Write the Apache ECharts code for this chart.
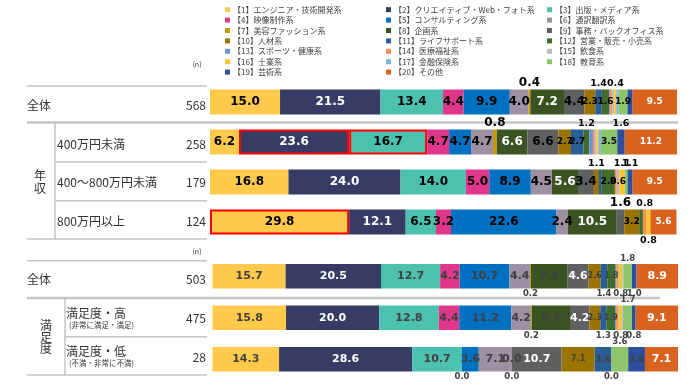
<!DOCTYPE html>
<html>
<head>
<meta charset="utf-8">
<script src="https://cdn.jsdelivr.net/npm/echarts@6/dist/echarts.min.js"></script>
<style>html,body{margin:0;padding:0;background:#fff}#c{width:700px;height:387px}</style>
</head>
<body>
<div id="c"></div>
<script>
// ---------- data ----------
const seriesNames = ['【1】エンジニア・技術開発系','【2】クリエイティブ・Web・フォト系','【3】出版・メディア系','【4】映像制作系','【5】コンサルティング系','【6】通訳翻訳系','【7】美容ファッション系','【8】企画系','【9】事務・バックオフィス系','【10】人材系','【11】ライフサポート系','【12】営業・販売・小売系','【13】スポーツ・健康系','【14】医療福祉系','【15】飲食系','【16】士業系','【17】金融保険系','【18】教育系','【19】芸術系','【20】その他'];
const colors = ['#FFC94B','#363C63','#4CC1B0','#E0378A','#0070C0','#9E8FA3','#C89B05','#3B5323','#606060','#9A7300','#2A5E96','#426B2E','#6A93D8','#F39050','#BDBDBD','#FFC629','#80B4E6','#8DC56B','#2D4F9E','#D9621F'];

const incomeRows = ['全体','400万円未満','400～800万円未満','800万円以上'];
const incomeN = ['568','258','179','124'];
const satisRows = ['全体','満足度・高','満足度・低'];
const satisN = ['503','475','28'];

const vAll568   = [15.0,21.5,13.4,4.4,9.9,4.0,0.4,7.2,4.4,2.3,1.4,1.6,0.2,0.5,0.4,0.4,0.5,1.9,1.1,9.5];
const vUnder400 = [6.2,23.6,16.7,4.7,4.7,4.7,0.8,6.6,6.6,2.7,2.7,1.2,0.8,0.4,0.4,0.4,0.5,3.5,1.6,11.2];
const v400to800 = [16.8,24.0,14.0,5.0,8.9,4.5,0.0,5.6,3.4,1.1,0.6,2.8,0.0,0.4,0.6,1.1,0.0,0.6,1.1,9.5];
const vOver800  = [29.8,12.1,6.5,3.2,22.6,2.4,0.0,10.5,1.6,3.2,0.0,0.8,0.0,0.8,0.0,0.8,0.0,0.0,0.0,5.6];
const vAll503   = [15.7,20.5,12.7,4.2,10.7,4.4,0.2,7.8,4.6,2.6,1.4,1.8,0.2,0.3,0.2,0.8,0.2,1.8,1.0,8.9];
const vSatHigh  = [15.8,20.0,12.8,4.4,11.2,4.2,0.2,8.2,4.2,2.3,1.3,1.9,0.2,0.4,0.2,0.8,0.3,1.7,0.8,9.1];
const vSatLow   = [14.3,28.6,10.7,0.0,3.6,7.1,0.0,0.0,10.7,7.1,3.6,0.0,0.0,0.0,0.0,0.0,0.0,3.6,3.6,7.1];

// ---------- label placement (legend numbers) ----------
const labelsA = [
  {inside:[1,2,3,4,5,6,8,9,10,12,18,20], top:[7,11,16], bottom:[]},
  {inside:[1,2,3,4,5,6,8,9,10,11,18,20], top:[7,12,19], bottom:[]},
  {inside:[1,2,3,4,5,6,8,9,12,15,20], top:[10,16,19], bottom:[]},
  {inside:[1,2,3,4,5,6,8,10,20], top:[9,14], bottom:[16]}
];
const labelsB = [
  {inside:[1,2,3,4,5,6,8,9,10,12,20], top:[18], bottom:[7,11,16,19]},
  {inside:[1,2,3,4,5,6,8,9,10,12,20], top:[18], bottom:[7,11,16,19]},
  {inside:[1,2,3,5,6,7,9,10,11,19,20], top:[18], bottom:[4,8,12]}
];
const highlightA = [[1,2],[1,3],[3,1]];

const rowsA = [vAll568, vUnder400, v400to800, vOver800];
const rowsB = [vAll503, vSatHigh, vSatLow];

const LF = 'DejaVu Sans, Verdana, sans-serif';
const JF = '"Noto Sans CJK JP", sans-serif';

function makeItem(group, r, s, v) {
  const num = s + 1;
  const cfg = group === 'A' ? labelsA[r] : labelsB[r];
  const item = {value: v};
  let label = {show: false};
  const dark = group === 'A' ? '#000' : '#404040';
  if (cfg.inside.includes(num)) {
    let white = group === 'A' ? [2,8,20].includes(num) : [2,9,20].includes(num);
    let size;
    if (group === 'A') size = num <= 9 ? 12 : 9;
    else size = (num <= 9 || num === 20) ? 11 : (num === 11 || num === 19 ? 9 : 8);
    label = {show:true, position:'inside', color: white ? '#fff' : dark, fontSize:size, fontWeight:'bold', fontFamily:LF};
  } else if (cfg.top.includes(num) || cfg.bottom.includes(num)) {
    const pos = cfg.top.includes(num) ? 'top' : 'bottom';
    let size = group === 'A' ? ((num === 7 || num === 9) ? 12 : 9.5) : 8.5;
    label = {show:true, position:pos, distance: 1, color: dark, fontSize:size, fontWeight:'bold', fontFamily:LF};
  }
  item.label = label;
  if (group === 'A' && highlightA.some(h => h[0] === r && h[1] === num)) {
    item.itemStyle = {borderColor:'#FF0000', borderWidth:2};
  }
  return item;
}

const series = [];
for (let s = 0; s < 20; s++) {
  series.push({
    name: seriesNames[s], type:'bar', stack:'a', xAxisIndex:0, yAxisIndex:0,
    barWidth: 25, itemStyle:{color:colors[s]},
    label:{formatter: p => Number(p.value).toFixed(1)},
    data: rowsA.map((row, r) => makeItem('A', r, s, row[s])),
    animation:false
  });
}
for (let s = 0; s < 20; s++) {
  series.push({
    name: seriesNames[s], type:'bar', stack:'b', xAxisIndex:1, yAxisIndex:1,
    barWidth: 24.5, itemStyle:{color:colors[s]},
    label:{formatter: p => Number(p.value).toFixed(1)},
    data: rowsB.map((row, r) => makeItem('B', r, s, row[s])),
    animation:false
  });
}

const legendCommon = {
  orient:'vertical', top:4.5, padding:0, itemGap:0, itemWidth:5, itemHeight:5, icon:'rect',
  selectedMode:false,
  textStyle:{fontSize:8, lineHeight:10.4, color:'#404040', fontFamily:JF, padding:[0,0,0,-2]}
};
const legends = [0,1,2].map(c => Object.assign({}, legendCommon, {
  left: [225, 386, 547][c],
  data: seriesNames.filter((n, i) => i % 3 === c)
}));

// ---------- left table ----------
const G = [];
function txt(t, x, y, size, align, extra) {
  G.push(Object.assign({type:'text', style:{text:t, x:x, y:y, font:`${size}px ${JF}`, fill:'#333', textAlign:align||'left', textVerticalAlign:'middle'}}, extra||{}));
}
function line(x1, y1, x2, y2, w, c) {
  G.push({type:'line', shape:{x1,y1,x2,y2}, style:{stroke:c||'#C4C4C4', lineWidth:w||1.5}});
}
// top block
txt('(n)', 197, 64, 7, 'center');
line(27, 86, 207, 86, 1.5);
const yA = [105, 144, 182.5, 221];
txt(incomeRows[0], 27, yA[0], 12);
for (let i = 1; i < 4; i++) txt(incomeRows[i], 57, yA[i], 12);
for (let i = 0; i < 4; i++) txt(incomeN[i], 206, yA[i], 12, 'right');
line(27, 122.5, 678, 122.5, 2.5);
G.push({type:'text', style:{text:'年\n収', x:40, y:182, font:`12px ${JF}`, fill:'#333', textAlign:'center', textVerticalAlign:'middle', lineHeight:13}});
line(55, 123, 55, 239, 1.5);
line(55, 162, 207, 162, 1.5);
line(55, 200.7, 207, 200.7, 1.5);
line(27, 239, 207, 239, 1.5);
// bottom block
txt('(n)', 197, 251.7, 7, 'center');
line(27, 260.7, 207, 260.7, 1.5);
txt(satisRows[0], 27, 279, 12);
txt(satisN[0], 206, 279, 12, 'right');
line(27, 298, 660, 298, 2.5);
G.push({type:'text', style:{text:'満\n足\n度', x:46, y:337, font:`12px ${JF}`, fill:'#333', textAlign:'center', textVerticalAlign:'middle', lineHeight:11.5}});
line(65, 298.5, 65, 375, 1.5);
txt(satisRows[1], 66, 313, 12);
txt('(非常に満足・満足)', 69, 325, 7.5);
txt(satisN[1], 206, 318, 12, 'right');
line(65, 336.7, 207, 336.7, 1.5);
txt(satisRows[2], 66, 351.7, 12);
txt('(不満・非常に不満)', 69, 363.5, 7.5);
txt(satisN[2], 206, 357, 12, 'right');
line(27, 375, 207, 375, 1.5);

const option = {
  animation:false,
  backgroundColor:'#fff',
  legend: legends,
  grid:[
    {left:210, right:23, top:82, height:160},
    {left:212.5, right:22, top:255.5, height:124.5}
  ],
  xAxis:[
    {type:'value', min:0, max:100, gridIndex:0, show:false},
    {type:'value', min:0, max:100, gridIndex:1, show:false}
  ],
  yAxis:[
    {type:'category', data:incomeRows, inverse:true, gridIndex:0, show:false},
    {type:'category', data:satisRows, inverse:true, gridIndex:1, show:false}
  ],
  graphic: G,
  series: series
};
const chart = echarts.init(document.getElementById('c'), null, {renderer:'canvas'});
chart.setOption(option);
</script>
</body>
</html>
